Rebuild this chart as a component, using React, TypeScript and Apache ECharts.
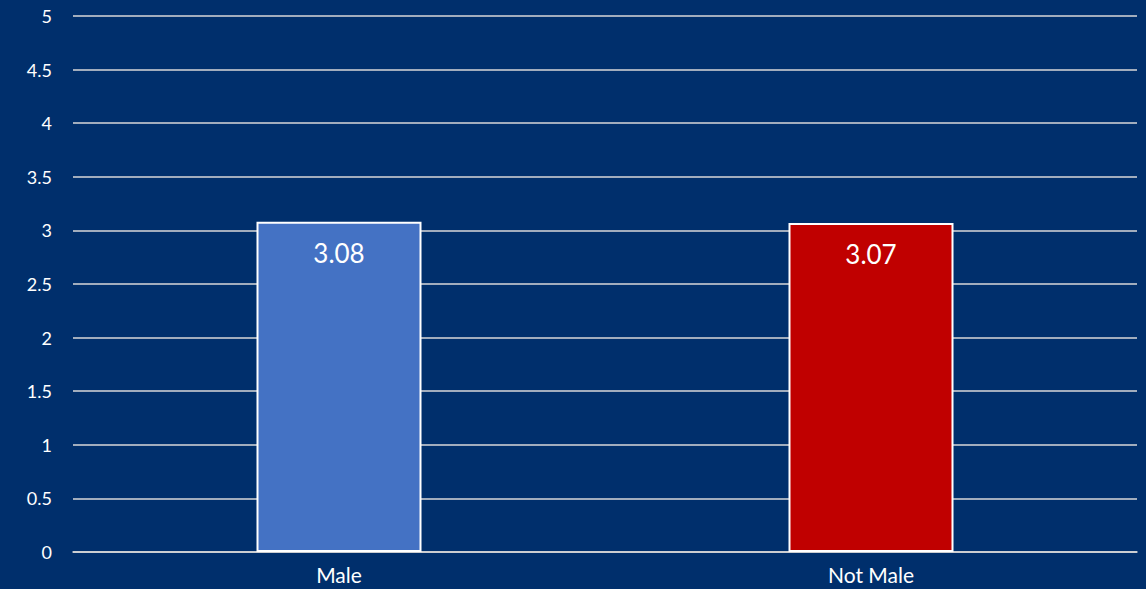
import React, { useEffect, useRef } from "react";
import * as echarts from "echarts";

const categories = ["Male", "Not Male"];
const values = [3.08, 3.07];
const barColors = ["#4472C4", "#C00000"];

export default function App() {
  const ref = useRef<HTMLDivElement>(null);
  useEffect(() => {
    if (!ref.current) return;
    const chart = echarts.init(ref.current, undefined, { renderer: "svg" });
    chart.setOption({
      animation: false,
      backgroundColor: "#002F6C",
      grid: { left: 73, right: 9, top: 16, bottom: 37 },
      xAxis: {
        type: "category",
        data: categories,
        axisLine: { show: true, lineStyle: { color: "#D9D9D9", width: 1.5 } },
        axisTick: { show: false },
        axisLabel: {
          color: "#FFFFFF",
          fontSize: 21,
          fontFamily: "Lato, sans-serif",
          margin: 12,
        },
      },
      yAxis: {
        type: "value",
        min: 0,
        max: 5,
        interval: 0.5,
        axisLine: { show: false },
        axisTick: { show: false },
        splitLine: { lineStyle: { color: "#D9D9D9", width: 1.5 } },
        axisLabel: {
          color: "#FFFFFF",
          fontSize: 18,
          fontFamily: "Lato, sans-serif",
          margin: 21,
        },
      },
      series: [
        {
          type: "bar",
          barWidth: 165,
          data: values.map((v, i) => ({
            value: v,
            itemStyle: { color: barColors[i] },
          })),
          itemStyle: { borderColor: "#FFFFFF", borderWidth: 2 },
          label: {
            show: true,
            position: "insideTop",
            distance: 18,
            color: "#FFFFFF",
            fontSize: 26,
            fontFamily: "Lato, sans-serif",
            formatter: (p: any) => p.value.toFixed(2),
          },
        },
      ],
    });
    return () => chart.dispose();
  }, []);
  return (
    <div
      ref={ref}
      style={{ position: "fixed", left: 0, top: 0, width: 1146, height: 589 }}
    />
  );
}
